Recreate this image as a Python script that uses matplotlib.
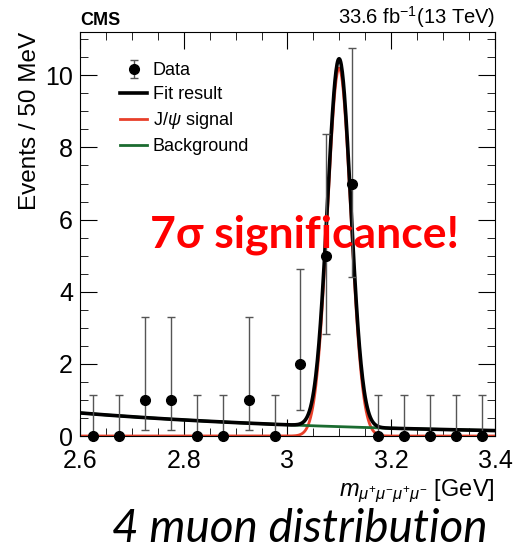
import numpy as np
import matplotlib
matplotlib.use("Agg")
from matplotlib import pyplot as plt
from matplotlib.ticker import MultipleLocator

plt.rcParams["font.family"] = ["Liberation Sans", "DejaVu Sans"]
plt.rcParams["mathtext.fontset"] = "custom"
plt.rcParams["mathtext.rm"] = "Liberation Sans"
plt.rcParams["mathtext.it"] = "Liberation Sans:italic"

# 50 MeV bins, 2.6 - 3.4 GeV
bin_centers = [2.625, 2.675, 2.725, 2.775, 2.825, 2.875, 2.925, 2.975,
               3.025, 3.075, 3.125, 3.175, 3.225, 3.275, 3.325, 3.375]
counts = [0, 0, 1, 1, 0, 0, 1, 0, 2, 5, 7, 0, 0, 0, 0, 0]
err_low = [0, 0, 0.83, 0.83, 0, 0, 0.83, 0, 1.29, 2.16, 2.58, 0, 0, 0, 0, 0]
err_high = [1.15, 1.15, 2.30, 2.30, 1.15, 1.15, 2.30, 1.15, 2.64, 3.38, 3.77,
            1.15, 1.15, 1.15, 1.15, 1.15]

# fit result (per 50 MeV)
sig_mean = 3.0995
sig_sigma = 0.0225
sig_peak = 10.2
bkg_norm = 0.64
bkg_slope = 1.81

x = np.linspace(2.6, 3.4, 800)
signal = sig_peak * np.exp(-0.5 * ((x - sig_mean) / sig_sigma) ** 2)
background = bkg_norm * np.exp(-bkg_slope * (x - 2.6))
total = signal + background

fig = plt.figure(figsize=(5.18, 5.49), dpi=100)
ax = fig.add_axes([0.1544, 0.2058, 0.8012, 0.7359])

ax.plot(x, signal, color="#e8402a", lw=2, label="J/$\\psi$ signal", zorder=2)
ax.plot(x, background, color="#1b6b30", lw=2, label="Background", zorder=2)
ax.plot(x, total, color="black", lw=2.6, label="Fit result", zorder=3)
ax.errorbar(bin_centers, counts, yerr=[err_low, err_high], fmt="o", color="black",
            ecolor="#555555", elinewidth=1, capsize=3, capthick=1, markersize=7,
            label="Data", zorder=4, clip_on=False)

ax.set_xlim(2.6, 3.4)
ax.set_ylim(0, 11.2)
ax.xaxis.set_major_locator(MultipleLocator(0.2))
ax.xaxis.set_minor_locator(MultipleLocator(0.05))
ax.yaxis.set_major_locator(MultipleLocator(2))
ax.yaxis.set_minor_locator(MultipleLocator(0.5))
ax.set_xticks([2.6, 2.8, 3.0, 3.2, 3.4], ["2.6", "2.8", "3", "3.2", "3.4"])
ax.tick_params(which="both", direction="in", top=True, right=True, labelsize=18)
ax.tick_params(which="major", length=12)
ax.tick_params(which="minor", length=6)
ax.tick_params(axis="x", pad=9)
ax.tick_params(axis="y", pad=5)

ax.set_ylabel("Events / 50 MeV", fontsize=17.5, loc="top", labelpad=3)
ax.set_xlabel("$m_{\\mu^{+}\\mu^{-}\\mu^{+}\\mu^{-}}$ [GeV]", fontsize=17, loc="right",
              labelpad=4)

handles, labels = ax.get_legend_handles_labels()
order = [3, 2, 0, 1]
ax.legend([handles[i] for i in order], [labels[i] for i in order], loc="upper left",
          bbox_to_anchor=(0.058, 0.965), frameon=False, fontsize=13, handlelength=1.5,
          labelspacing=0.38, handletextpad=0.3)

fig.text(0.1544, 0.948, "CMS", fontsize=13, fontweight="bold", ha="left", va="bottom")
fig.text(0.9556, 0.946, "33.6 fb$^{-1}$(13 TeV)", fontsize=14.5, ha="right", va="bottom")

ax.text(0.542, 0.4975, "7\u03c3 significance!", transform=ax.transAxes, color="red",
        fontsize=32, fontweight="bold", family=["Lato", "DejaVu Sans"],
        ha="center", va="center", zorder=5)

fig.text(0.579, 0.036, "4 muon distribution", fontsize=33, style="italic",
         family=["Lato", "DejaVu Sans"], ha="center", va="center")

fig.savefig("out.png", dpi=100)
